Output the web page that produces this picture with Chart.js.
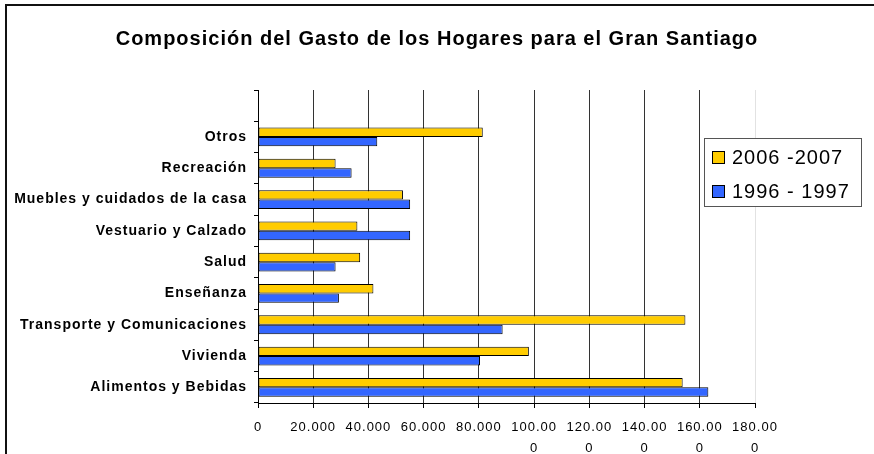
<!DOCTYPE html>
<html>
<head>
<meta charset="utf-8">
<script src="https://cdn.jsdelivr.net/npm/chart.js@4.4.1/dist/chart.umd.min.js"></script>
<style>
  html, body { margin: 0; padding: 0; background: #fff; overflow: hidden; }
  #wrap { position: relative; width: 874px; height: 454px; }
  #frame {
    position: absolute; left: 5px; top: 4px; width: 900px; height: 500px;
    border-left: 2px solid #111; border-top: 2px solid #111;
    pointer-events: none;
  }
</style>
</head>
<body>
<div id="wrap">
  <canvas id="chart-gasto" width="874" height="454"></canvas>
  <div id="frame"></div>
</div>
<script>
/* ==========================================================
   DATA (top to bottom, first slot is empty like the original)
   ==========================================================*/
const categories = [
  "",
  "Otros",
  "Recreación",
  "Muebles y cuidados de la casa",
  "Vestuario y Calzado",
  "Salud",
  "Enseñanza",
  "Transporte y Comunicaciones",
  "Vivienda",
  "Alimentos y Bebidas",
];
const seriesLabels = ["2006 -2007", "1996 - 1997"];
const gasto2006 = [null, 81400, 28100, 52500, 36000, 37000, 41800, 154800, 98100, 153800];
const gasto1996 = [null, 43200, 33900, 55100, 55100, 28100, 29300, 88600, 80400, 163100];
const xMin = 0;
const xMax = 180000;
const xStep = 20000;

const FONT = "'Liberation Sans', Arial, sans-serif";
Chart.defaults.font.family = FONT;
Chart.defaults.color = "#000";

/* ==========================================================
   HELPERS
   ==========================================================*/
// "100000" -> ["100.00", "0"] like the wrapped Excel labels
function formatTick(v) {
  const s = String(v).replace(/\B(?=(\d{3})+(?!\d))/g, ".");
  return s.length > 6 ? [s.slice(0, 6), s.slice(6)] : s;
}

// wide text spacing, the original looks letter-spaced
const spacingPlugin = {
  id: "spacing",
  beforeUpdate(chart) { chart.ctx.letterSpacing = "1px"; },
  beforeDraw(chart) { chart.ctx.letterSpacing = "1px"; },
};

// boxed legend sitting over the right part of the plot
const boxLegend = {
  id: "boxLegend",
  afterDraw(chart) {
    const ctx = chart.ctx;
    const x = 704, y = 138, w = 157, h = 68;
    ctx.save();
    ctx.fillStyle = "#fff";
    ctx.fillRect(x, y, w, h);
    ctx.strokeStyle = "#555";
    ctx.lineWidth = 1;
    ctx.strokeRect(x + 0.5, y + 0.5, w, h);

    ctx.font = "20px " + FONT;
    ctx.textBaseline = "middle";
    ctx.textAlign = "left";
    chart.data.datasets.forEach((ds, i) => {
      const cy = y + 19 + i * 34;
      ctx.fillStyle = ds.backgroundColor;
      ctx.fillRect(x + 8, cy - 6, 12, 12);
      ctx.strokeStyle = "#000";
      ctx.strokeRect(x + 8.5, cy - 5.5, 12, 12);
      ctx.fillStyle = "#000";
      ctx.fillText(ds.label, x + 28, cy + 1);
    });
    ctx.restore();
  },
};

/* ==========================================================
   CHART
   ==========================================================*/
new Chart(document.getElementById("chart-gasto"), {
  type: "bar",
  data: {
    labels: categories,
    datasets: [
      {
        label: seriesLabels[0],
        data: gasto2006,
        backgroundColor: "#FFCC00",
        borderColor: "#000",
        borderWidth: 1,
        borderSkipped: false,
        yAxisID: "y",
      },
      {
        label: seriesLabels[1],
        data: gasto1996,
        backgroundColor: "#3366FF",
        borderColor: "#000",
        borderWidth: 1,
        borderSkipped: false,
        yAxisID: "y",
      },
    ],
  },
  options: {
    indexAxis: "y",
    responsive: false,
    animation: false,
    devicePixelRatio: 1,
    categoryPercentage: 0.6,
    barPercentage: 1.0,
    layout: { padding: 0 },
    plugins: {
      legend: { display: false },
      tooltip: { enabled: false },
      title: {
        display: true,
        text: "Composición del Gasto de los Hogares para el Gran Santiago",
        font: { size: 20, weight: "bold", lineHeight: 1.2 },
        color: "#000",
        padding: { top: 27, bottom: 39 },
      },
    },
    scales: {
      x: {
        min: xMin,
        max: xMax,
        afterFit: (scale) => { scale.height = 51; },
        ticks: {
          stepSize: xStep,
          autoSkip: false,
          maxRotation: 0,
          padding: 9,
          font: { size: 13, lineHeight: "21px" },
          callback: formatTick,
        },
        grid: {
          color: (c) => (c.tick && c.tick.value === xMax ? "#e2e2e2" : "#333"),
          tickColor: "#000",
          tickLength: 5,
        },
        border: { color: "#000", width: 1 },
      },
      y: {
        type: "category",
        position: "left",
        afterFit: (scale) => { scale.width = 258; },
        ticks: {
          autoSkip: false,
          padding: 7,
          font: { size: 14, weight: "bold" },
        },
        grid: {
          drawOnChartArea: false,
          offset: true,
          tickLength: 4,
          tickColor: "#000",
        },
        border: { color: "#000", width: 1 },
      },
      // empty strip on the right so the plot ends at 180.000 and the title stays centred
      yRight: {
        type: "category",
        position: "right",
        afterFit: (scale) => { scale.width = 119; },
        ticks: { display: false },
        grid: { display: false },
        border: { display: false },
      },
    },
  },
  plugins: [spacingPlugin, boxLegend],
});
</script>
</body>
</html>
